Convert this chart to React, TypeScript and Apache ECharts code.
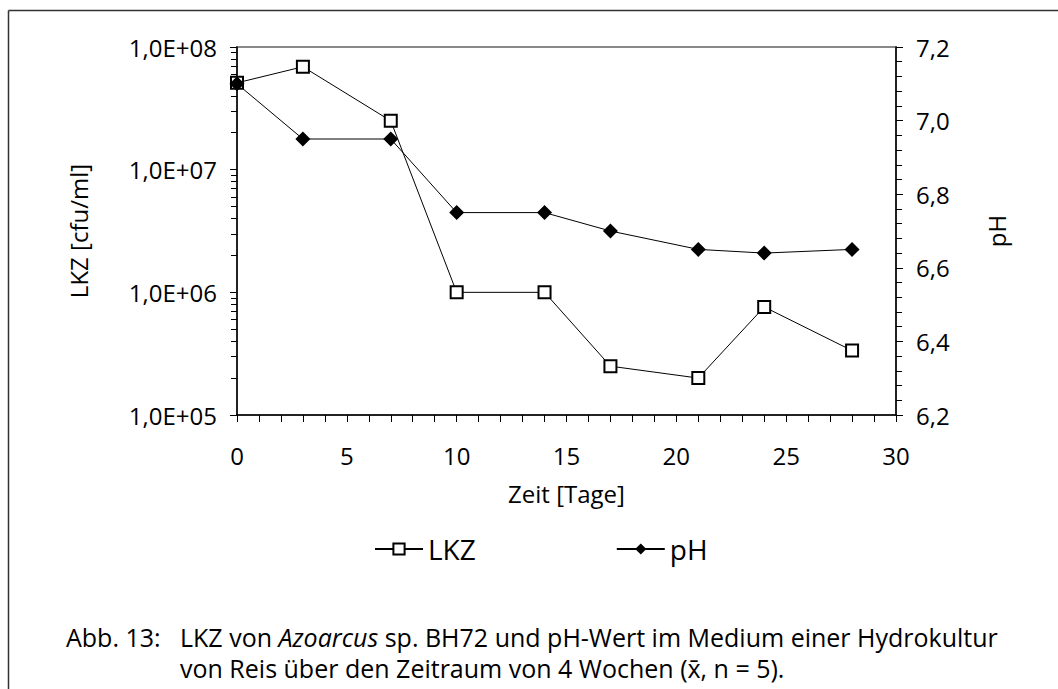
import React, { useEffect, useRef } from "react";
import * as echarts from "echarts";

const days = [0, 3, 7, 10, 14, 17, 21, 24, 28];
const lkz = [5.1e7, 6.9e7, 2.5e7, 1.0e6, 1.0e6, 2.5e5, 2.0e5, 7.6e5, 3.35e5];
const ph = [7.1, 6.95, 6.95, 6.75, 6.75, 6.7, 6.65, 6.64, 6.65];
const seriesNames = ["LKZ", "pH"];
const decades = [5, 6, 7];
const minorMultipliers = [2, 3, 4, 5, 6, 7, 8, 9];
const captionLabel = "Abb. 13:";
const captionLine1 = "LKZ von {i|Azoarcus} sp. BH72 und pH-Wert im Medium einer Hydrokultur";
const captionLine2 = "von Reis über den Zeitraum von 4 Wochen (x\u0304, n = 5).";

const FONT = "'Open Sans', 'DejaVu Sans', sans-serif";

export default function App() {
  const ref = useRef<HTMLDivElement>(null);
  useEffect(() => {
    if (!ref.current) return;
    const chart = echarts.init(ref.current, null, { renderer: "svg" });
    const minorTickPositions: number[] = [];
    decades.forEach((d) =>
      minorMultipliers.forEach((m) => minorTickPositions.push(Math.log10(m * Math.pow(10, d))))
    );
    const axisLineStyle = { color: "#000", width: 1.5 };
    const labelStyle = { color: "#000", fontSize: 24, fontFamily: FONT };
    const capSize = 25;
    chart.setOption({
      animation: false,
      backgroundColor: "#fff",
      textStyle: { fontFamily: FONT },
      grid: {
        left: 237,
        top: 47,
        right: 162,
        bottom: 274,
        show: true,
        borderColor: "#888",
        borderWidth: 2,
        containLabel: false,
      },
      legend: {
        data: seriesNames,
        left: 369,
        top: 530,
        itemWidth: 48,
        itemHeight: 14,
        itemGap: 140,
        textStyle: { color: "#000", fontSize: 28, fontFamily: FONT },
      },
      xAxis: {
        type: "value",
        min: 0,
        max: 30,
        interval: 5,
        name: "Zeit [Tage]",
        nameLocation: "middle",
        nameGap: 66,
        nameTextStyle: labelStyle,
        axisLine: { lineStyle: axisLineStyle },
        axisTick: { show: true, length: 7, lineStyle: { color: "#000", width: 1 } },
        minorTick: { show: true, splitNumber: 5, length: 7, lineStyle: { color: "#000", width: 1 } },
        axisLabel: { ...labelStyle, margin: 28 },
        splitLine: { show: false },
      },
      yAxis: [
        {
          type: "log",
          logBase: 10,
          min: 1e5,
          max: 1e8,
          position: "left",
          name: "LKZ [cfu/ml]",
          nameLocation: "middle",
          nameRotate: 90,
          nameGap: 147,
          nameTextStyle: labelStyle,
          axisLine: { show: true, lineStyle: axisLineStyle },
          axisTick: { show: true, length: 7, lineStyle: { color: "#000", width: 1 } },
          axisLabel: {
            ...labelStyle,
            margin: 20,
            formatter: (v: number) => {
              const e = Math.round(Math.log10(v));
              return "1,0E+" + String(e).padStart(2, "0");
            },
          },
          splitLine: { show: false },
        },
        {
          type: "value",
          min: 6.2,
          max: 7.2,
          interval: 0.2,
          position: "right",
          name: "pH",
          nameLocation: "middle",
          nameRotate: 90,
          nameGap: 88,
          nameTextStyle: labelStyle,
          axisLine: { show: true, lineStyle: axisLineStyle },
          axisTick: { show: true, length: 7, lineStyle: { color: "#000", width: 1 } },
          minorTick: { show: true, splitNumber: 5, length: 6, lineStyle: { color: "#000", width: 1 } },
          axisLabel: {
            ...labelStyle,
            margin: 20,
            formatter: (v: number) => v.toFixed(1).replace(".", ","),
          },
          splitLine: { show: false },
        },
        {
          type: "value",
          min: 5,
          max: 8,
          position: "left",
          axisLine: { show: false },
          axisLabel: { show: false },
          axisTick: {
            show: true,
            length: 6,
            customValues: minorTickPositions,
            lineStyle: { color: "#000", width: 1 },
          },
          splitLine: { show: false },
        },
      ],
      series: [
        {
          name: seriesNames[0],
          type: "line",
          yAxisIndex: 0,
          data: days.map((d, i) => [d, lkz[i]]),
          symbol: "rect",
          symbolSize: 12,
          lineStyle: { color: "#000", width: 1 },
          itemStyle: { color: "#fff", borderColor: "#000", borderWidth: 2 },
        },
        {
          name: seriesNames[1],
          type: "line",
          yAxisIndex: 1,
          data: days.map((d, i) => [d, ph[i]]),
          symbol: "diamond",
          symbolSize: 15,
          lineStyle: { color: "#000", width: 1 },
          itemStyle: { color: "#000", borderColor: "#000", borderWidth: 0 },
        },
      ],
      graphic: [
        { type: "line", shape: { x1: 8.5, y1: 10.5, x2: 1058, y2: 10.5 }, style: { stroke: "#333", lineWidth: 1.5 } },
        { type: "line", shape: { x1: 8.5, y1: 10.5, x2: 8.5, y2: 689 }, style: { stroke: "#333", lineWidth: 1.5 } },
        {
          type: "text",
          x: 66,
          y: 637,
          style: { text: captionLabel, fontSize: capSize, fontFamily: FONT, fill: "#000", verticalAlign: "middle" },
        },
        {
          type: "text",
          x: 180,
          y: 637,
          style: {
            text: captionLine1,
            fontSize: capSize,
            fontFamily: FONT,
            fill: "#000",
            verticalAlign: "middle",
            rich: { i: { fontStyle: "italic", fontSize: capSize, fontFamily: FONT, fill: "#000" } },
          },
        },
        {
          type: "text",
          x: 180,
          y: 668,
          style: { text: captionLine2, fontSize: capSize, fontFamily: FONT, fill: "#000", verticalAlign: "middle" },
        },
      ],
    });
    return () => chart.dispose();
  }, []);
  return (
    <div
      ref={ref}
      style={{ position: "fixed", left: 0, top: 0, width: 1058, height: 689, background: "#fff" }}
    />
  );
}
